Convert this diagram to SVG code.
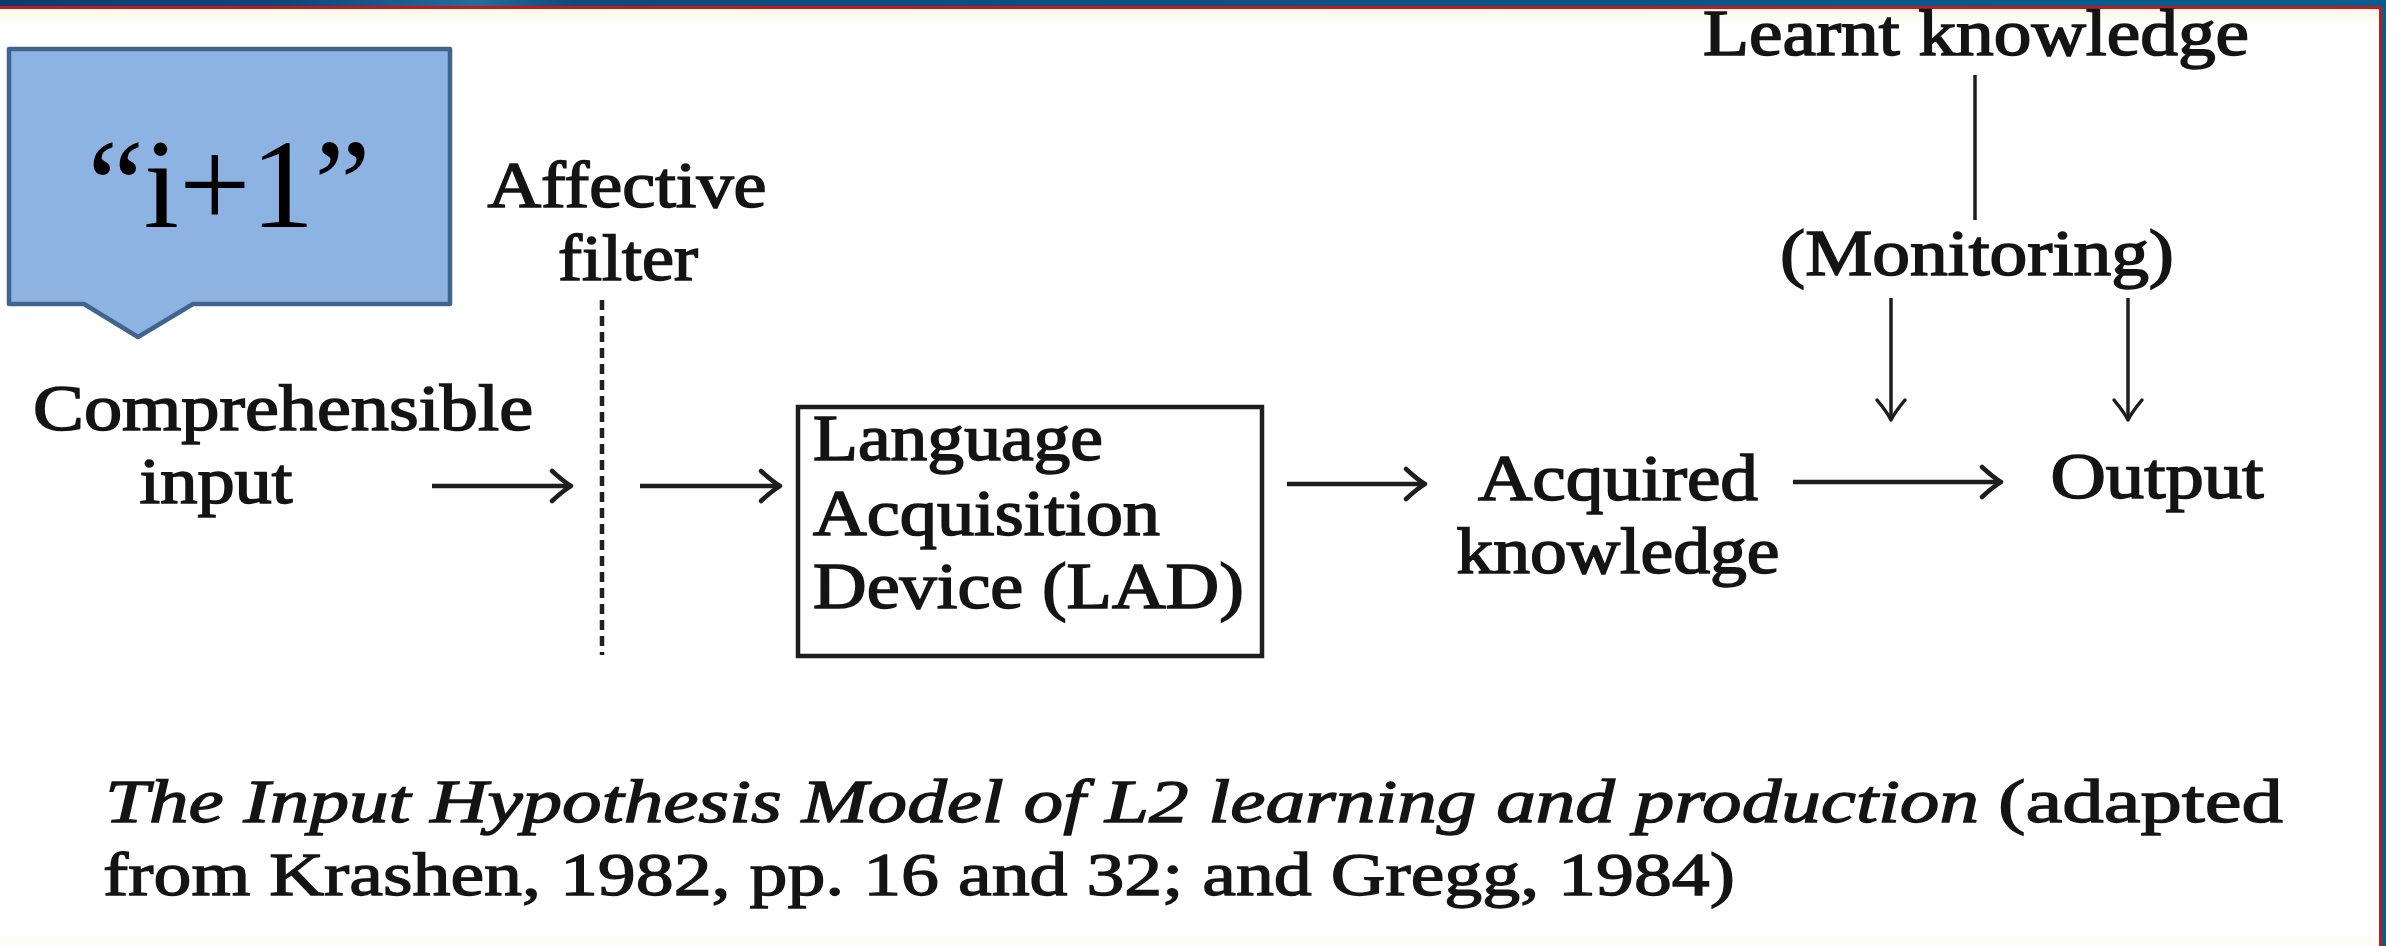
<svg xmlns="http://www.w3.org/2000/svg" width="2386" height="946" viewBox="0 0 2386 946">
  <defs>
    <linearGradient id="bar" x1="0" y1="0" x2="1" y2="0">
      <stop offset="0" stop-color="#0D3C6C"/>
      <stop offset="0.12" stop-color="#104677"/>
      <stop offset="0.2" stop-color="#2A6A98"/>
      <stop offset="0.24" stop-color="#10497A"/>
      <stop offset="1" stop-color="#0B5C8E"/>
    </linearGradient>
    <linearGradient id="cream" x1="0" y1="0" x2="0" y2="1">
      <stop offset="0" stop-color="#FBF7E6"/>
      <stop offset="1" stop-color="#FFFFFF"/>
    </linearGradient>
    <marker id="arr" viewBox="-24 -18 28 36" refX="0" refY="0" markerWidth="28" markerHeight="36" markerUnits="userSpaceOnUse" orient="auto">
      <path d="M -19 -15 Q -7 -4 0 0 Q -7 4 -19 15" fill="none" stroke="#1E1E1E" stroke-width="4.5" stroke-linecap="round" stroke-linejoin="round"/>
    </marker>
    <marker id="arrS" viewBox="-24 -18 28 36" refX="0" refY="0" markerWidth="28" markerHeight="36" markerUnits="userSpaceOnUse" orient="auto">
      <path d="M -20 -14 Q -8 -4 0 0 Q -8 4 -20 14" fill="none" stroke="#1E1E1E" stroke-width="3.5" stroke-linecap="round" stroke-linejoin="round"/>
    </marker>
  </defs>
  <style>
    .t { font-family: "Liberation Serif", "Times New Roman", serif; font-size: 66px; fill: #141414; stroke: #141414; stroke-width: 1.6px; }
    .c { text-anchor: middle; }
    .cap { font-family: "Liberation Serif", "Times New Roman", serif; font-size: 62px; fill: #141414; stroke: #141414; stroke-width: 1.3px; }
    .it { font-style: italic; }
    .conn { stroke: #1E1E1E; stroke-width: 4.5; fill: none; }
    .thin { stroke: #1E1E1E; stroke-width: 3.5; fill: none; }
  </style>

  <!-- background frame -->
  <rect x="0" y="0" width="2386" height="946" fill="#FFFFFF"/>
  <rect x="0" y="9" width="2386" height="18" fill="url(#cream)"/>
  <rect x="0" y="936" width="2386" height="10" fill="#FFFDF3"/>
  <rect x="0" y="0" width="2386" height="6" fill="url(#bar)"/>
  <rect x="0" y="6" width="2386" height="3" fill="#B81C24"/>
  <rect x="2379" y="6" width="3" height="940" fill="#B81C24"/>
  <rect x="2382" y="0" width="4" height="946" fill="#0B5C8E"/>

  <!-- callout -->
  <g id="callout">
    <path d="M 9 49 H 450 V 304 H 193 L 138 337 L 84 304 H 9 Z" fill="#8DB3E2" stroke="#41648F" stroke-width="4.5" stroke-linejoin="round"/>
    <text x="229" y="227" text-anchor="middle" font-family="'Liberation Serif', 'Times New Roman', serif" font-size="127" fill="#000000">“i+1”</text>
  </g>

  <g id="filter">
    <text class="t c" x="627" y="207" textLength="279" lengthAdjust="spacingAndGlyphs">Affective</text>
    <text class="t c" x="628" y="280" textLength="140" lengthAdjust="spacingAndGlyphs">filter</text>
    <line x1="602" y1="300" x2="602" y2="655" stroke="#1E1E1E" stroke-width="4.5" stroke-dasharray="10 6"/>
  </g>

  <g id="input">
    <text class="t c" x="283" y="430" textLength="500" lengthAdjust="spacingAndGlyphs">Comprehensible</text>
    <text class="t c" x="216" y="503" textLength="153" lengthAdjust="spacingAndGlyphs">input</text>
  </g>

  <g id="lad">
    <rect x="798" y="407" width="464" height="249" fill="none" stroke="#1E1E1E" stroke-width="4.5"/>
    <text class="t" x="813" y="460" textLength="290" lengthAdjust="spacingAndGlyphs">Language</text>
    <text class="t" x="813" y="535" textLength="347" lengthAdjust="spacingAndGlyphs">Acquisition</text>
    <text class="t" x="813" y="608" textLength="431" lengthAdjust="spacingAndGlyphs">Device (LAD)</text>
  </g>

  <g id="acquired">
    <text class="t c" x="1618" y="500" textLength="280" lengthAdjust="spacingAndGlyphs">Acquired</text>
    <text class="t c" x="1618" y="573" textLength="323" lengthAdjust="spacingAndGlyphs">knowledge</text>
  </g>

  <g id="output">
    <text class="t c" x="2157" y="498" textLength="213" lengthAdjust="spacingAndGlyphs">Output</text>
  </g>

  <g id="learnt">
    <text class="t c" x="1976" y="55" textLength="546" lengthAdjust="spacingAndGlyphs">Learnt knowledge</text>
  </g>

  <g id="monitoring">
    <text class="t c" x="1977" y="275" textLength="394" lengthAdjust="spacingAndGlyphs">(Monitoring)</text>
  </g>

  <g id="connectors">
    <line class="conn" x1="432" y1="486" x2="571" y2="486" marker-end="url(#arr)"/>
    <line class="conn" x1="640" y1="486" x2="780" y2="486" marker-end="url(#arr)"/>
    <line class="conn" x1="1287" y1="484" x2="1425" y2="484" marker-end="url(#arr)"/>
    <line class="conn" x1="1793" y1="482" x2="2001" y2="482" marker-end="url(#arr)"/>
    <line class="thin" x1="1975" y1="75" x2="1975" y2="220"/>
    <line class="thin" x1="1891" y1="298" x2="1891" y2="420" marker-end="url(#arrS)"/>
    <line class="thin" x1="2128" y1="298" x2="2128" y2="420" marker-end="url(#arrS)"/>
  </g>

  <g id="caption">
    <text class="cap it" x="105" y="822" textLength="1874" lengthAdjust="spacingAndGlyphs">The Input Hypothesis Model of L2 learning and production</text>
    <text class="cap" x="1998" y="822" textLength="285" lengthAdjust="spacingAndGlyphs">(adapted</text>
    <text class="cap" x="103" y="895" textLength="1632" lengthAdjust="spacingAndGlyphs">from Krashen, 1982, pp. 16 and 32; and Gregg, 1984)</text>
  </g>
</svg>
